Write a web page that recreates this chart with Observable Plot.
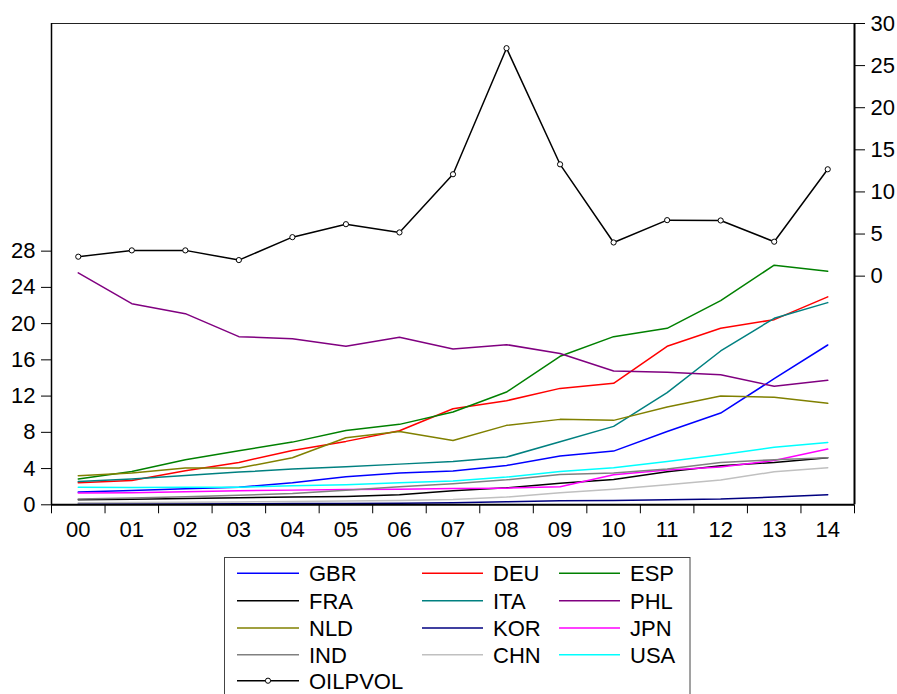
<!DOCTYPE html>
<html>
<head>
<meta charset="utf-8">
<script src="https://cdn.jsdelivr.net/npm/d3@7"></script>
<script src="https://cdn.jsdelivr.net/npm/@observablehq/plot@0.6"></script>
<style>
  body { margin: 0; background: #fff; font-family: "Liberation Sans", Arial, sans-serif; }
  #chart { position: relative; width: 897px; height: 694px; overflow: hidden; }
  svg { display: block; }
</style>
</head>
<body>
<div id="chart"></div>
<script>
const years = ["00","01","02","03","04","05","06","07","08","09","10","11","12","13","14"];

const GBR = [1.40,1.58,1.77,1.95,2.43,3.09,3.50,3.72,4.35,5.38,5.93,8.10,10.13,13.92,17.64];
const DEU = [2.43,2.69,3.76,4.68,6.00,7.00,8.18,10.60,11.49,12.85,13.41,17.50,19.48,20.44,22.95];
const ESP = [2.85,3.68,4.97,5.97,6.92,8.21,8.88,10.24,12.45,16.39,18.56,19.48,22.54,26.45,25.78];
const FRA = [0.55,0.62,0.70,0.78,0.85,0.92,1.10,1.55,1.88,2.39,2.80,3.65,4.31,4.68,5.19];
const ITA = [2.56,2.84,3.24,3.61,3.94,4.20,4.49,4.79,5.27,6.96,8.66,12.38,16.98,20.59,22.32];
const PHL = [25.6,22.2,21.1,18.56,18.34,17.5,18.5,17.2,17.68,16.7,14.77,14.62,14.36,13.08,13.74];
const NLD = [3.20,3.50,4.05,4.05,5.19,7.40,8.10,7.10,8.77,9.43,9.32,10.79,12.00,11.86,11.20];
const KOR = [0.08,0.09,0.10,0.11,0.13,0.15,0.18,0.22,0.33,0.44,0.48,0.55,0.63,0.85,1.10];
const JPN = [1.29,1.33,1.44,1.55,1.62,1.69,1.73,1.80,1.84,1.99,3.31,3.83,4.16,4.90,6.15];
const IND = [0.64,0.75,0.90,1.05,1.25,1.60,2.00,2.32,2.76,3.35,3.50,3.94,4.68,4.97,5.19];
const CHN = [0.22,0.25,0.28,0.32,0.36,0.42,0.48,0.58,0.85,1.33,1.73,2.21,2.73,3.65,4.09];
const USA = [1.95,1.92,1.95,1.95,2.10,2.21,2.43,2.62,3.06,3.68,4.09,4.79,5.52,6.34,6.89];
const OILPVOL = [2.31,3.06,3.06,1.91,4.63,6.17,5.19,12.10,27.07,13.28,4.00,6.65,6.61,4.09,12.69];

const seriesNames = ["GBR","DEU","ESP","FRA","ITA","PHL","NLD","KOR","JPN","IND","CHN","USA"];
const seriesValues = [GBR,DEU,ESP,FRA,ITA,PHL,NLD,KOR,JPN,IND,CHN,USA];
const seriesColors = ["#0000ff","#ff0000","#008000","#000000","#008080","#800080","#808000","#000080","#ff00ff","#808080","#c0c0c0","#00ffff"];

const leftTicks = [0,4,8,12,16,20,24,28];
const rightTicks = [0,5,10,15,20,25,30];

// scale geometry
const yTop = 53.13;          // left-axis value at top of frame
const rMin = -27.15, rMax = 30; // right-axis value range over the frame
const toLeft = v => (v - rMin) * yTop / (rMax - rMin);
const fromLeft = y => y * (rMax - rMin) / yTop + rMin;

const rows = [];
seriesNames.forEach((n, k) => seriesValues[k].forEach((v, i) => rows.push({name: n, i, v})));
const oil = OILPVOL.map((v, i) => ({i, v: toLeft(v)}));

const FONT = 22;
const boundaries = d3.range(-0.5, 15, 1);

const plot = Plot.plot({
  width: 897,
  height: 545,
  marginLeft: 51,
  marginRight: 43,
  marginTop: 23,
  marginBottom: 40.7,
  style: {fontFamily: '"Liberation Sans", Arial, sans-serif', fontSize: FONT + "px", background: "#fff", overflow: "visible"},
  x: {type: "linear", domain: [-0.5, 14.5]},
  y: {domain: [0, yTop]},
  color: {domain: seriesNames, range: seriesColors},
  marks: [
    Plot.ruleY([yTop], {stroke: "#222", strokeWidth: 1}),
    Plot.line(rows, {x: "i", y: "v", z: "name", stroke: "name", strokeWidth: 1.5}),
    Plot.line(oil, {x: "i", y: "v", stroke: "#000", strokeWidth: 1.5}),
    Plot.dot(oil, {x: "i", y: "v", r: 2.6, fill: "#fff", stroke: "#000", strokeWidth: 1}),
    Plot.ruleX([-0.5], {stroke: "#000", strokeWidth: 1.5}),
    Plot.ruleX([14.5], {stroke: "#000", strokeWidth: 2}),
    Plot.ruleY([0], {stroke: "#000", strokeWidth: 2}),
    Plot.axisY(leftTicks, {anchor: "left", tickSize: 10, tickPadding: 6, fontSize: FONT, label: null, stroke: "#000"}),
    Plot.axisY(rightTicks.map(toLeft), {anchor: "right", tickSize: 10, tickPadding: 6, fontSize: FONT, label: null,
      tickFormat: y => String(Math.round(fromLeft(y))), stroke: "#000"}),
    Plot.axisX(boundaries, {tickSize: 9, tickFormat: () => "", label: null, stroke: "#000"}),
    Plot.axisX(d3.range(0, 15), {tickSize: 0, tickPadding: 17, fontSize: FONT, label: null,
      tickFormat: i => years[i]})
  ]
});
document.getElementById("chart").appendChild(plot);

// legend below the chart
const legendItems = [
  ["GBR", "#0000ff", 0, 0], ["DEU", "#ff0000", 1, 0], ["ESP", "#008000", 2, 0],
  ["FRA", "#000000", 0, 1], ["ITA", "#008080", 1, 1], ["PHL", "#800080", 2, 1],
  ["NLD", "#808000", 0, 2], ["KOR", "#000080", 1, 2], ["JPN", "#ff00ff", 2, 2],
  ["IND", "#808080", 0, 3], ["CHN", "#c0c0c0", 1, 3], ["USA", "#00ffff", 2, 3],
  ["OILPVOL", "#000000", 0, 4]
];
const colX = [[237, 299, 309], [422, 483, 493], [559, 620, 630]];
const rowY = [28.3, 55.7, 83, 109.7, 135.7];
const leg = d3.create("svg").attr("width", 897).attr("height", 149)
  .style("font-family", '"Liberation Sans", Arial, sans-serif');
leg.append("rect").attr("x", 224.5).attr("y", 12.5).attr("width", 465.5).attr("height", 160)
  .attr("fill", "#fff").attr("stroke", "#444").attr("stroke-width", 1);
legendItems.forEach(([name, color, c, r]) => {
  const [x0, x1, tx] = colX[c];
  const y = rowY[r];
  leg.append("line").attr("x1", x0).attr("x2", x1).attr("y1", y).attr("y2", y)
    .attr("stroke", color).attr("stroke-width", 1.5);
  if (name === "OILPVOL") {
    leg.append("circle").attr("cx", (x0 + x1) / 2).attr("cy", y).attr("r", 2.6)
      .attr("fill", "#fff").attr("stroke", "#000");
  }
  leg.append("text").attr("x", tx).attr("y", y + 7.8).attr("font-size", FONT).attr("fill", "#000").text(name);
});
document.getElementById("chart").appendChild(leg.node());
</script>
</body>
</html>
